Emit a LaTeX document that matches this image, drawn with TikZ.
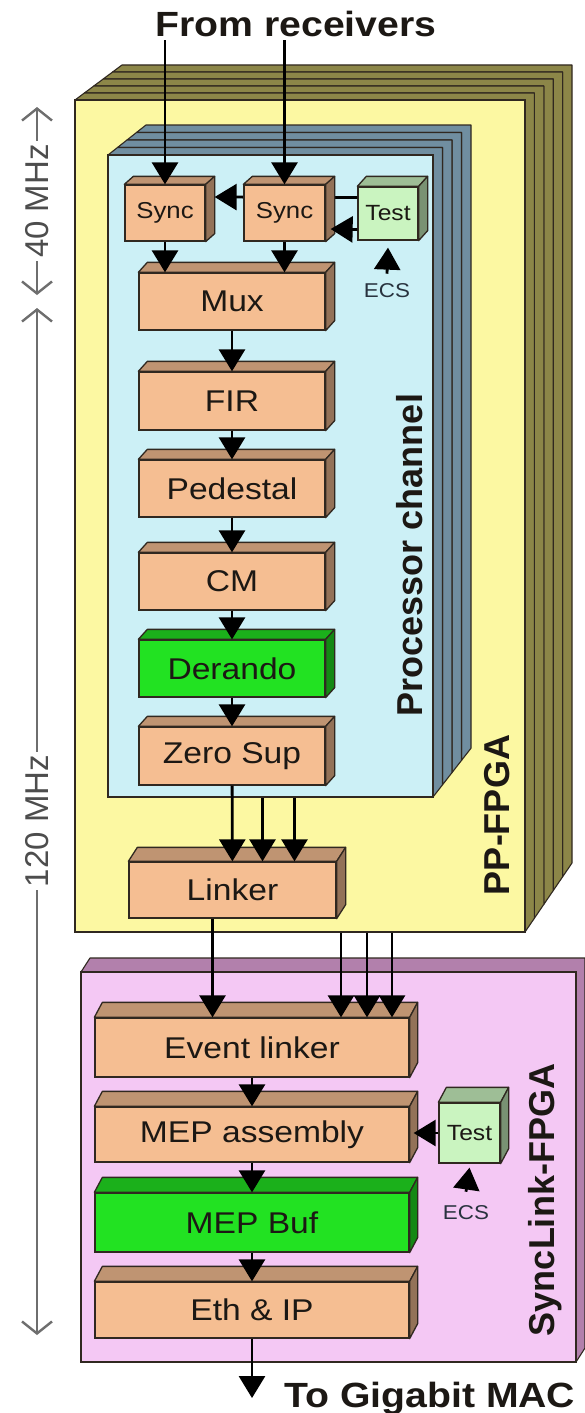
\documentclass[tikz,border=0pt]{standalone}
\usepackage{fontspec}
\setmainfont{Liberation Sans}
\newfontfamily\wfont{Liberation Sans}[FakeStretch=1.12]
\usetikzlibrary{arrows.meta}

\definecolor{ppyel}{RGB}{252,248,162}
\definecolor{ppolive}{RGB}{140,134,72}
\definecolor{pcyan}{RGB}{204,240,246}
\definecolor{psteel}{RGB}{112,142,160}
\definecolor{slpink}{RGB}{244,200,244}
\definecolor{slmauve}{RGB}{178,128,172}
\definecolor{blktan}{RGB}{245,190,146}
\definecolor{blkgreen}{RGB}{34,226,34}
\definecolor{blkmint}{RGB}{202,244,192}
\definecolor{edge}{RGB}{48,40,32}
\definecolor{ink}{RGB}{28,24,20}
\definecolor{ecsink}{RGB}{40,50,62}
\definecolor{mhzgray}{RGB}{110,110,110}

\begin{document}
\begin{tikzpicture}[x=1pt, y=-1pt,
    block/.style={draw=edge, line width=1.3pt, fill=blktan, inner sep=0pt,
                  minimum width=186pt, minimum height=57pt, text=ink,
                  font=\wfont\fontsize{30}{34}\selectfont},
    smallbox/.style={font=\wfont\fontsize{23}{26}\selectfont},
    testbox/.style={fill=blkmint, font=\wfont\fontsize{22}{25}\selectfont},
    face/.style={draw=edge, line width=1.3pt, line join=round},
    plate/.style={draw=edge, line width=1.1pt, line join=round},
    board/.style={draw=edge, line width=1.2pt, inner sep=0pt},
    arr/.style={-{Triangle[length=22pt,width=26pt]}, line width=2.8pt},
    headline/.style={font=\wfont\bfseries\fontsize{35}{40}\selectfont, text=ink},
    rotlab/.style={rotate=90, font=\bfseries\fontsize{36}{40}\selectfont, text=ink},
    ecs/.style={font=\wfont\fontsize{20}{22}\selectfont, text=ecsink, inner sep=2pt},
    freq/.style={rotate=90, inner sep=3pt, text=mhzgray!70!black,
                 font=\fontsize{33}{36}\selectfont},
    freqarr/.style={-{Straight Barb[length=12pt,width=30pt]}, line width=2.4pt, draw=mhzgray}
  ]
  \useasboundingbox (0,0) rectangle (585,1413);
  \fill[white] (0,0) rectangle (585,1413);

  % clock domains
  \coordinate (f40top) at (37,107);
  \coordinate (f40bot) at (37,295);
  \node[freq] (mhz40) at (37,201) {40 MHz};
  \draw[freqarr] (mhz40) -- (f40top);
  \draw[freqarr] (mhz40) -- (f40bot);
  \coordinate (f120top) at (37,308);
  \coordinate (f120bot) at (37,1335);
  \node[freq] (mhz120) at (37,821) {120 MHz};
  \draw[freqarr] (mhz120) -- (f120top);
  \draw[freqarr] (mhz120) -- (f120bot);

  % PP-FPGA stack
  \foreach \i in {5,4,3,2,1} {
    \pgfmathsetmacro\j{\i-1}
    \draw[plate, fill=ppolive]
      ({75+9.4*\i},{100-7*\i}) -- ({525+9.4*\i},{100-7*\i})
      -- ({525+9.4*\i},{932-13.8*\i}) -- ({525+9.4*\j},{932-13.8*\j})
      -- ({525+9.4*\j},{100-7*\j}) -- ({75+9.4*\j},{100-7*\j}) -- cycle;
  }
  \node[board, fill=ppyel, minimum width=450pt, minimum height=832pt] (pp) at (300,516) {};

  % processor channel stack
  \foreach \i in {4,3,2,1} {
    \pgfmathsetmacro\j{\i-1}
    \draw[plate, fill=psteel]
      ({108+9.5*\i},{155-7.5*\i}) -- ({433+9.5*\i},{155-7.5*\i})
      -- ({433+9.5*\i},{797-12.2*\i}) -- ({433+9.5*\j},{797-12.2*\j})
      -- ({433+9.5*\j},{155-7.5*\j}) -- ({108+9.5*\j},{155-7.5*\j}) -- cycle;
  }
  \node[board, fill=pcyan, minimum width=325pt, minimum height=642pt] (proc) at (270.5,476) {};

  % sync and test
  \node[block, smallbox, minimum width=80pt, minimum height=56pt] (sync1) at (165,213) {Sync};
  \node[block, testbox, minimum width=60pt, minimum height=53pt] (test1) at (388,213.5) {Test};
  \foreach \b/\col/\h in {sync1/blktan/8, test1/blkmint/10} {
    \draw[face, fill=\col!78!black] (\b.north west) -- ++(9,-\h)
      -- ([shift={(9pt,\h pt)}]\b.north east) -- (\b.north east) -- cycle;
    \draw[face, fill=\col!60!black] (\b.north east) -- ++(9,-\h)
      -- ([shift={(9pt,\h pt)}]\b.south east) -- (\b.south east) -- cycle;
  }
  \draw[arr] ([yshift=16pt]test1.west) -- ([xshift=9pt,yshift=16pt]sync1.east);

  % processing chain
  \node[block, smallbox, minimum width=81pt, minimum height=56pt] (sync2) at (284.5,213) {Sync};
  \node[block] (mux) at (232,301.5) {Mux};
  \node[block, minimum height=58pt] (fir) at (232,401) {FIR};
  \node[block] (ped) at (232,488.5) {Pedestal};
  \node[block] (cm) at (232,581.5) {CM};
  \node[block, fill=blkgreen] (der) at (232,668.5) {Derando};
  \node[block, minimum height=58pt] (zs) at (232,756) {Zero Sup};
  \node[block, minimum width=207pt, minimum height=56pt] (linker) at (232.5,890) {Linker};
  \foreach \b/\col/\h in {sync2/blktan/8, mux/blktan/10, fir/blktan/10, ped/blktan/10,
                          cm/blktan/10, der/blkgreen/10, zs/blktan/10, linker/blktan/14} {
    \draw[face, fill=\col!78!black] (\b.north west) -- ++(9,-\h)
      -- ([shift={(9pt,\h pt)}]\b.north east) -- (\b.north east) -- cycle;
    \draw[face, fill=\col!60!black] (\b.north east) -- ++(9,-\h)
      -- ([shift={(9pt,\h pt)}]\b.south east) -- (\b.south east) -- cycle;
  }

  % SyncLink-FPGA
  \draw[plate, fill=slmauve] (90,958) -- (585,958) -- (585,1348) -- (576,1362)
    -- (576,972) -- (81,972) -- cycle;
  \node[board, fill=slpink, minimum width=495pt, minimum height=390pt] (sl) at (328.5,1167) {};
  \node[block, minimum width=314pt, minimum height=59pt] (evl) at (252,1047.5) {Event linker};
  \node[block, minimum width=314pt, minimum height=55pt] (mepa) at (252,1134.5) {MEP assembly};
  \node[block, fill=blkgreen, minimum width=314pt, minimum height=59pt] (mepb) at (252,1222.5) {MEP Buf};
  \node[block, minimum width=314pt, minimum height=56pt] (eth) at (252,1310) {Eth \& IP};
  \node[block, testbox, minimum width=61pt, minimum height=60pt] (test2) at (469.5,1133) {Test};
  \foreach \b/\col/\h in {evl/blktan/15, mepa/blktan/15, mepb/blkgreen/15,
                          eth/blktan/15, test2/blkmint/15} {
    \draw[face, fill=\col!78!black] (\b.north west) -- ++(8,-\h)
      -- ([shift={(8pt,\h pt)}]\b.north east) -- (\b.north east) -- cycle;
    \draw[face, fill=\col!60!black] (\b.north east) -- ++(8,-\h)
      -- ([shift={(8pt,\h pt)}]\b.south east) -- (\b.south east) -- cycle;
  }

  % labels
  \node[headline, inner sep=3pt] (fromrx) at (296,24) {From receivers};
  \node[headline, anchor=base west, inner sep=0pt] (tomac) at (284,1407) {To Gigabit MAC};
  \node[rotlab] (pclab) at (410,555) {Processor channel};
  \node[rotlab] (pplab) at (497,815) {PP-FPGA};
  \node[rotlab] (sllab) at (545,1200) {SyncLink-FPGA};
  \node[ecs] (ecs1) at (387,291) {ECS};
  \node[ecs] (ecs2) at (466,1213) {ECS};

  % data flow
  \draw[arr] (fromrx.south -| sync1.north) -- (sync1.north);
  \draw[arr] (fromrx.south -| sync2.north) -- (sync2.north);
  \draw[arr] ([yshift=-16pt]test1.west) -- ([xshift=5pt,yshift=-16pt]sync2.east);
  \draw[arr] ([yshift=8pt]ecs1.north) -- ([yshift=-7pt]test1.south);
  \draw[arr] (sync1.south) -- (sync1.south |- mux.north);
  \draw[arr] (sync2.south) -- (sync2.south |- mux.north);
  \foreach \a/\b in {mux/fir, fir/ped, ped/cm, cm/der, der/zs, zs/linker}
    \draw[arr] (\a) -- (\b);
  \foreach \dx in {30,62}
    \draw[arr] ([xshift=\dx pt]linker.north |- proc.south) -- ([xshift=\dx pt]linker.north);
  \draw[arr] ([xshift=-20pt]linker.south) -- ([xshift=-20pt]linker.south |- evl.north);
  \foreach \dx in {89,115,140}
    \draw[arr] ([xshift=\dx pt]evl.north |- pp.south) -- ([xshift=\dx pt]evl.north);
  \foreach \a/\b in {evl/mepa, mepa/mepb, mepb/eth}
    \draw[arr] (\a) -- (\b);
  \draw[arr] (test2.west) -- ([xshift=4pt]mepa.east |- test2.west);
  \draw[arr] ([yshift=12pt]ecs2.north) -- ([yshift=-4pt]test2.south);
  \draw[arr] (eth) -- (eth.south |- tomac.west);
\end{tikzpicture}
\end{document}
